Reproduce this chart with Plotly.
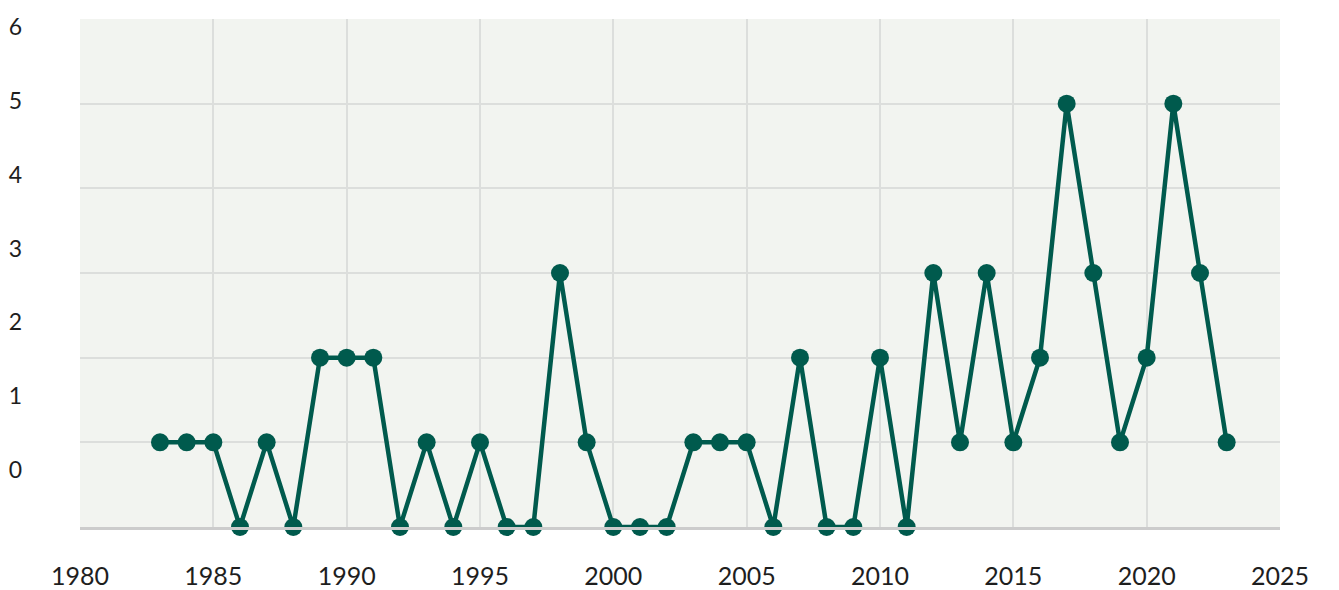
import plotly.graph_objects as go

years = list(range(1983, 2024))
counts = [1, 1, 1, 0, 1, 0, 2, 2, 2, 0, 1, 0, 1, 0, 0, 3, 1, 0, 0, 0,
          1, 1, 1, 0, 2, 0, 0, 2, 0, 3, 1, 3, 1, 2, 5, 3, 1, 2, 5, 3, 1]
x_ticks = [1980, 1985, 1990, 1995, 2000, 2005, 2010, 2015, 2020, 2025]
y_ticks = [0, 1, 2, 3, 4, 5, 6]

LINE = "#005a4d"
FONT = "Lato, 'Open Sans', sans-serif"

fig = go.Figure()
fig.add_trace(go.Scatter(
    x=years, y=counts, mode="lines+markers",
    line=dict(color=LINE, width=4.5),
    marker=dict(color=LINE, size=18),
    cliponaxis=False, showlegend=False,
))
# carrier for the left label axis (labels sit on a slightly different scale)
fig.add_trace(go.Scatter(x=[None], y=[None], yaxis="y2",
                         showlegend=False, hoverinfo="skip"))

fig.update_layout(
    width=1339, height=590,
    margin=dict(l=80, r=59, t=19, b=63),
    paper_bgcolor="white", plot_bgcolor="#f2f4f0",
    font=dict(family=FONT, size=22, color="#1e1e1e"),
    xaxis=dict(range=[1980, 2025], tickvals=x_ticks, showgrid=True,
               gridcolor="#dcdedc", gridwidth=2, zeroline=False,
               showline=True, linecolor="#cccccc", linewidth=3,
               ticks="", ticklabelstandoff=25, automargin=False,
               tickfont=dict(size=25)),
    yaxis=dict(range=[0, 6], tickvals=y_ticks, showgrid=True,
               gridcolor="#dcdedc", gridwidth=2, zeroline=False,
               showticklabels=False, ticks="", automargin=False),
    yaxis2=dict(range=[-0.772, 6.108], tickvals=y_ticks, overlaying="y",
                side="left", showgrid=False, zeroline=False, showline=False,
                ticks="", ticklabelstandoff=57, tickfont=dict(size=23),
                automargin=False),
)

fig.write_html("out.html", config={"displayModeBar": False},
               post_script="document.body.style.margin='0';")
